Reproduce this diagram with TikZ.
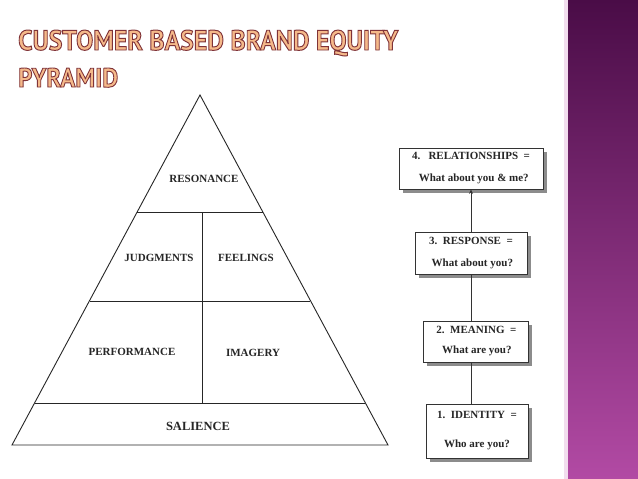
\documentclass[tikz,border=0pt]{standalone}
\usepackage{fontspec}
\setmainfont{Liberation Serif}
\newfontfamily\titlefont{PT Sans}[UprightFont={* Bold},FakeBold=3.5]
\usetikzlibrary{arrows.meta,shadows}
\definecolor{barTop}{HTML}{4A0C47}
\definecolor{barBot}{HTML}{B24AA4}
\definecolor{barEdge}{HTML}{F2DDEE}
\definecolor{titleFill}{HTML}{F5B98A}
\definecolor{boxLine}{HTML}{333333}
\definecolor{shadowGray}{HTML}{8C8C8C}
\newcommand{\outlinedtitle}[1]{{\color{titleFill}\special{pdf:literal direct 0.50 0.20 0.22 RG}#1}}
\begin{document}
\begin{tikzpicture}[x=1pt,y=-1pt,
  pyr/.style={draw=black!85,line width=0.9pt},
  lbl/.style={font=\fontsize{11}{13}\selectfont\bfseries,text=black!85,inner sep=0pt},
  stepbox/.style={draw=boxLine,line width=0.8pt,fill=white,align=center,inner sep=0pt,
    font=\fontsize{11}{13}\selectfont\bfseries,text=black!85,
    drop shadow={shadow xshift=3.5pt,shadow yshift=-3.5pt,fill=shadowGray,opacity=1}},
  conn/.style={draw=boxLine,line width=0.9pt}]
\useasboundingbox (0,0) rectangle (638,479);
\fill[white] (0,0) rectangle (638,479);
% side bar
\fill[barEdge] (564,0) rectangle (568,479);
\shade[top color=barTop,bottom color=barBot] (568,0) rectangle (638,479);
% title
\node[anchor=base west,inner sep=0pt] (title1) at (18,50)
  {\resizebox{380pt}{20pt}{\titlefont\outlinedtitle{CUSTOMER BASED BRAND EQUITY}}};
\node[anchor=base west,inner sep=0pt] (title2) at (18,87)
  {\resizebox{100pt}{19pt}{\titlefont\outlinedtitle{PYRAMID}}};
% pyramid
\coordinate (apex) at (200,95);
\coordinate (bl) at (12,445);
\coordinate (br) at (388,445);
\coordinate (l1) at (137,212); \coordinate (r1) at (263,212);
\coordinate (l2) at (90,301);  \coordinate (r2) at (310,301);
\coordinate (l3) at (35,403);  \coordinate (r3) at (365,403);
\coordinate (vtop) at (202,212); \coordinate (vbot) at (202,403);
\draw[pyr,line join=miter] (apex) -- (br) -- (bl) -- cycle;
\draw[pyr] (l1) -- (r1);
\draw[pyr] (l2) -- (r2);
\draw[pyr] (l3) -- (r3);
\draw[pyr] (vtop) -- (vbot);
\node[lbl] (reso) at (204,179) {RESONANCE};
\node[lbl] (judg) at (159,258) {JUDGMENTS};
\node[lbl] (feel) at (246,258) {FEELINGS};
\node[lbl] (perf) at (132,352) {PERFORMANCE};
\node[lbl] (imag) at (253,353) {IMAGERY};
\node[lbl,font=\fontsize{12.5}{14}\selectfont\bfseries] (sali) at (198,426) {SALIENCE};
% boxes
\node[stepbox,minimum width=144pt,minimum height=41pt] (box4) at (471,168.5)
  {4.\ \ \ RELATIONSHIPS \ =\\[9pt]\ \ What about you \& me?};
\node[stepbox,minimum width=112pt,minimum height=42pt] (box3) at (471,253)
  {3.\ \ RESPONSE \ =\\[9pt]\ What about you?};
\node[stepbox,minimum width=105pt,minimum height=41pt] (box2) at (475.5,341.5)
  {\,2.\ \ MEANING \ =\\[7pt]\ What are you?};
\node[stepbox,minimum width=102pt,minimum height=54pt] (box1) at (477,431)
  {1.\ \ IDENTITY \ =\\[16pt]Who are you?};
\draw[conn,-{Stealth[length=4.5pt,width=4pt]}] (box3.north) -- (box4.south);
\draw[conn] (box2.north -| box3.south) -- (box3.south);
\draw[conn] (box1.north -| box3.south) -- (box2.south -| box3.south);
\end{tikzpicture}
\end{document}
